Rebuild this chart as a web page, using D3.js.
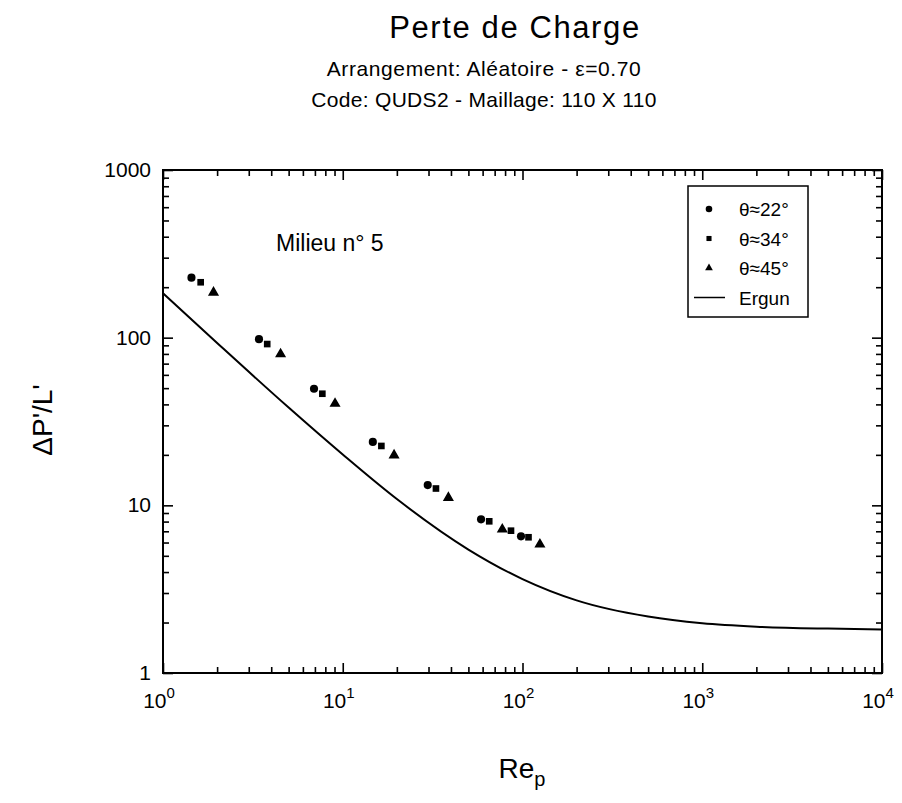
<!DOCTYPE html>
<html>
    <head>
        <script src="https://d3js.org/d3.v7.min.js"></script>
        <style>
            body { margin: 0; background: #fff; }
            text { font-family: "Liberation Sans", Arial, sans-serif; fill: #000; }
        </style>
    </head>
    <body>
        <svg height="803" width="902" id="chart"></svg>
        <script>
            // values
            const re22=[1.44, 3.42, 6.92, 14.7, 29.7, 58.8, 98.1];
            const dp22=[228, 98, 49.6, 23.9, 13.2, 8.25, 6.53];
            const re34=[1.62, 3.80, 7.70, 16.4, 33.0, 65.3, 86.3, 108];
            const dp34=[214, 91.6, 46.3, 22.6, 12.6, 8.03, 7.06, 6.45];
            const re45=[1.91, 4.51, 9.06, 19.3, 38.7, 77.2, 125];
            const dp45=[186, 79.8, 40.4, 19.9, 11.1, 7.19, 5.85];
            const ergunRe=[1, 2, 5, 10, 20, 50, 100, 200, 500, 1000, 2000, 5000, 10000];
            const ergunDp=[184, 93, 38.3, 20.1, 10.9, 5.45, 3.63, 2.71, 2.17, 1.98, 1.89, 1.84, 1.82];
            const xTickExp=[0, 1, 2, 3, 4];
            const yTickLabels=["1", "10", "100", "1000"];
            const legendLabels=["θ≈22°", "θ≈34°", "θ≈45°", "Ergun"];

            let svg=d3.select("#chart");
            let pLeft=163, pRight=882, pTop=170, pBottom=673;

            let x=d3.scaleLog().domain([1, 1e4]).range([pLeft, pRight]);
            let y=d3.scaleLog().domain([1, 1000]).range([pBottom, pTop]);

            // minor tick values per decade
            let minorX=[], minorY=[];
            for (let e=0; e<4; e++) for (let k=2; k<10; k++) minorX.push(k*Math.pow(10, e));
            for (let e=0; e<3; e++) for (let k=2; k<10; k++) minorY.push(k*Math.pow(10, e));
            let majorX=xTickExp.map(e=>Math.pow(10, e));
            let majorY=yTickLabels.map(Number);

            function drawTicks(axisFn, scale, pos, values, len){
                let g=svg.append("g").attr("transform", pos)
                    .call(axisFn(scale).tickValues(values).tickSizeInner(-len).tickSizeOuter(0).tickFormat(""));
                g.select(".domain").remove();
                g.selectAll("line").attr("stroke", "#000").attr("stroke-width", 1.6);
            }
            drawTicks(d3.axisBottom, x, `translate(0,${pBottom})`, minorX, 6);
            drawTicks(d3.axisBottom, x, `translate(0,${pBottom})`, majorX, 10);
            drawTicks(d3.axisTop, x, `translate(0,${pTop})`, minorX, 6);
            drawTicks(d3.axisTop, x, `translate(0,${pTop})`, majorX, 10);
            drawTicks(d3.axisLeft, y, `translate(${pLeft},0)`, minorY, 6);
            drawTicks(d3.axisLeft, y, `translate(${pLeft},0)`, majorY, 10);
            drawTicks(d3.axisRight, y, `translate(${pRight},0)`, minorY, 6);
            drawTicks(d3.axisRight, y, `translate(${pRight},0)`, majorY, 10);

            svg.append("rect")
                .attr("x", pLeft).attr("y", pTop)
                .attr("width", pRight-pLeft).attr("height", pBottom-pTop)
                .attr("fill", "none").attr("stroke", "#000").attr("stroke-width", 2);

            // tick labels
            svg.selectAll(".ylab").data(yTickLabels).enter().append("text")
                .attr("x", pLeft-12).attr("y", d=>y(+d)+7)
                .attr("text-anchor", "end").attr("font-size", 21)
                .text(d=>d);

            let xl=svg.selectAll(".xlab").data(xTickExp).enter().append("text")
                .attr("x", d=>x(Math.pow(10, d))-4).attr("y", pBottom+35)
                .attr("text-anchor", "middle").attr("font-size", 21);
            xl.append("tspan").text("10");
            xl.append("tspan").attr("dy", -10).attr("font-size", 15).text(d=>d);

            // titles
            svg.append("text").attr("x", 515).attr("y", 38).attr("text-anchor", "middle")
                .attr("font-size", 31).attr("letter-spacing", 1.6).text("Perte de Charge");
            svg.append("text").attr("x", 484).attr("y", 76).attr("text-anchor", "middle")
                .attr("font-size", 21).attr("letter-spacing", 0.6).text("Arrangement: Aléatoire - ε=0.70");
            svg.append("text").attr("x", 484).attr("y", 107).attr("text-anchor", "middle")
                .attr("font-size", 21).attr("letter-spacing", 0.3).text("Code: QUDS2 - Maillage: 110 X 110");

            let xt=svg.append("text").attr("x", 522).attr("y", 778).attr("text-anchor", "middle")
                .attr("font-size", 28);
            xt.append("tspan").text("Re");
            xt.append("tspan").attr("dy", 8).attr("font-size", 20).text("p");

            svg.append("text").attr("transform", "translate(52,420) rotate(-90)")
                .attr("text-anchor", "middle").attr("font-size", 28).text("ΔP'/L'");

            svg.append("text").attr("x", 276).attr("y", 251).attr("font-size", 23)
                .text("Milieu n° 5");

            // Ergun curve
            let line=d3.line().x(d=>x(d[0])).y(d=>y(d[1])).curve(d3.curveMonotoneX);
            svg.append("path")
                .datum(ergunRe.map((r, i)=>[r, ergunDp[i]]))
                .attr("d", line)
                .attr("fill", "none").attr("stroke", "#000").attr("stroke-width", 2);

            // markers
            let circ=d3.symbol().type(d3.symbolCircle);
            let sq=d3.symbol().type(d3.symbolSquare);
            let tri=d3.symbol().type(d3.symbolTriangle);

            svg.selectAll(".c22").data(re22.map((r, i)=>[r, dp22[i]])).enter().append("path")
                .attr("d", circ.size(52)())
                .attr("transform", d=>`translate(${x(d[0])},${y(d[1])})`);
            svg.selectAll(".s34").data(re34.map((r, i)=>[r, dp34[i]])).enter().append("path")
                .attr("d", sq.size(44)())
                .attr("transform", d=>`translate(${x(d[0])},${y(d[1])})`);
            svg.selectAll(".t45").data(re45.map((r, i)=>[r, dp45[i]])).enter().append("path")
                .attr("d", tri.size(30)())
                .attr("fill", "#000").attr("stroke", "#000").attr("stroke-width", 1.6)
                .attr("transform", d=>`translate(${x(d[0])},${y(d[1])})`);

            // legend
            let lg=svg.append("g").attr("transform", "translate(688,186)");
            lg.append("rect").attr("width", 120).attr("height", 131)
                .attr("fill", "#fff").attr("stroke", "#000").attr("stroke-width", 1.5);
            let shapes=[circ.size(34)(), sq.size(26)(), tri.size(26)()];
            legendLabels.forEach((lab, i)=>{
                let cy=23+i*29.5;
                if (i<3) {
                    lg.append("path").attr("d", shapes[i]).attr("transform", `translate(21,${cy})`);
                } else {
                    lg.append("line").attr("x1", 6).attr("x2", 37).attr("y1", cy).attr("y2", cy)
                        .attr("stroke", "#000").attr("stroke-width", 1.5);
                }
                lg.append("text").attr("x", 51).attr("y", cy+7).attr("font-size", 19).text(lab);
            });
        </script>
    </body>
</html>
